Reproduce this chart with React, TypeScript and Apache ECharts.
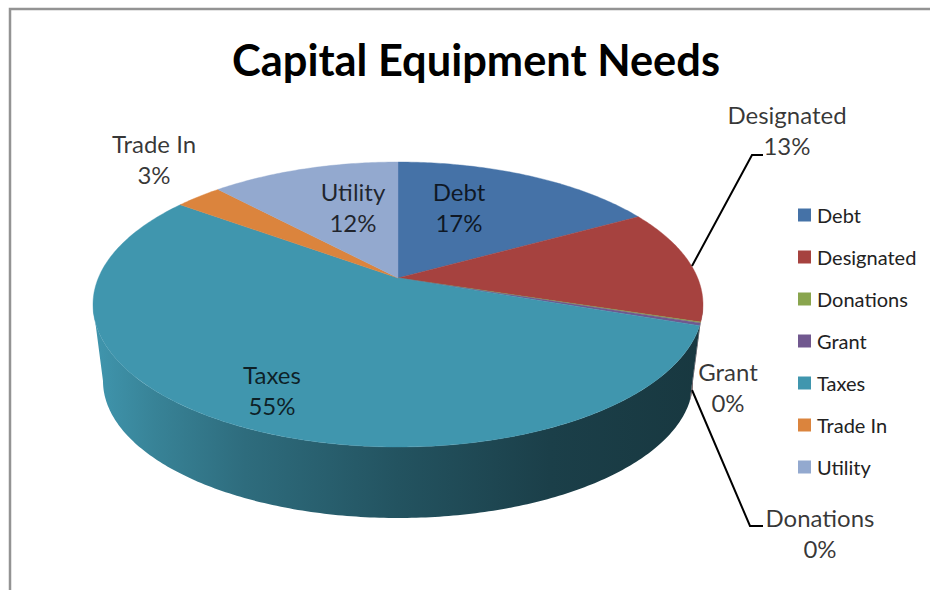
import React, { useEffect, useRef } from "react";
import * as echarts from "echarts";

// Capital equipment funding sources, in percent of the total.
const categories = ["Debt", "Designated", "Donations", "Grant", "Taxes", "Trade In", "Utility"];
const shares = [17, 13, 0.1, 0.3, 55, 3, 12];
const sliceColors = ["#4572A7", "#A6423F", "#89A54E", "#71588F", "#4096AE", "#DB843D", "#93A9CF"];

const total = shares.reduce((a, b) => a + b, 0);

// Perspective disc: the top face and the lower rim are ellipses, and the pie's
// centre sits above the ellipse centre, as a tilted camera would show it.
const topFace = { cx: 398, cy: 304.5, rx: 305, ry: 142.5 };
const lowerRim = { cx: 398, cy: 381, rx: 295, ry: 137 };
const tilt = -0.186;

// Hand-placed labels: text centre and optional leader line.
const labelSpots: Record<string, { x: number; y: number; leader?: number[][] }> = {
  Debt: { x: 459, y: 207 },
  Designated: { x: 787, y: 130, leader: [[692, 266], [752, 155], [763, 155]] },
  Donations: { x: 820, y: 533, leader: [[692, 390], [750, 526], [763, 526]] },
  Grant: { x: 728, y: 387 },
  Taxes: { x: 272, y: 390 },
  "Trade In": { x: 154, y: 159 },
  Utility: { x: 353, y: 207 },
};

const wallShade = [
  [0, 1],
  [0.1, 0.87],
  [0.25, 0.72],
  [0.5, 0.55],
  [0.75, 0.42],
  [1, 0.37],
];

function shade(hex: string, f: number) {
  const n = parseInt(hex.slice(1), 16);
  const c = [(n >> 16) & 255, (n >> 8) & 255, n & 255].map((v) => Math.round(v * f));
  return `rgb(${c[0]},${c[1]},${c[2]})`;
}

// Maps a true pie angle (clockwise from 12 o'clock) to normalised ellipse coordinates.
function project(theta: number) {
  const x = Math.sin(theta);
  const y = -Math.cos(theta);
  const d = 1 + tilt * y;
  return { u: (x * Math.sqrt(1 - tilt * tilt)) / d, v: (y + tilt) / d };
}

const onEllipse = (e: typeof topFace, p: { u: number; v: number }) => [e.cx + e.rx * p.u, e.cy + e.ry * p.v];

function angleSamples(from: number, to: number) {
  const steps = Math.max(2, Math.ceil((to - from) / (Math.PI / 240)));
  const out: number[] = [];
  for (let i = 0; i <= steps; i++) out.push(from + ((to - from) * i) / steps);
  return out;
}

// The wall is visible only for the arc of the rim that faces the viewer.
const wallFrom = Math.acos(tilt);
const wallTo = 2 * Math.PI - wallFrom;

function sliceRenderer(index: number) {
  const before = shares.slice(0, index).reduce((a, b) => a + b, 0);
  return (_params: any, api: any) => {
    const value = api.value(0);
    const start = (before / total) * 2 * Math.PI;
    const end = ((before + value) / total) * 2 * Math.PI;
    const children: any[] = [];
    const color = sliceColors[index];

    const wa = Math.max(start, wallFrom);
    const wb = Math.min(end, wallTo);
    if (wb > wa) {
      const arc = angleSamples(wa, wb).map(project);
      children.push({
        type: "polygon",
        shape: { points: [...arc.map((p) => onEllipse(topFace, p)), ...arc.reverse().map((p) => onEllipse(lowerRim, p))] },
        style: {
          fill: {
            type: "linear",
            global: true,
            x: topFace.cx - topFace.rx,
            y: 0,
            x2: topFace.cx + topFace.rx,
            y2: 0,
            colorStops: wallShade.map(([offset, f]) => ({ offset, color: shade(color, f) })),
          },
        },
      });
    }

    const apex = [topFace.cx, topFace.cy + topFace.ry * tilt];
    children.push({
      type: "polygon",
      shape: { points: [apex, ...angleSamples(start, end).map((t) => onEllipse(topFace, project(t)))] },
      style: { fill: color, stroke: color, lineWidth: 0.4 },
    });

    const spot = labelSpots[categories[index]];
    if (spot.leader) {
      children.push({
        type: "polyline",
        shape: { points: spot.leader },
        style: { fill: "none", stroke: "#000", lineWidth: 2 },
      });
    }
    children.push({
      type: "text",
      style: {
        x: spot.x,
        y: spot.y,
        text: `${categories[index]}\n${Math.round((value / total) * 100)}%`,
        font: "24px Lato",
        lineHeight: 31,
        align: "center",
        verticalAlign: "middle",
        fill: "rgba(0,0,0,0.78)",
      },
    });
    return { type: "group", children };
  };
}

export default function App() {
  const host = useRef<HTMLDivElement>(null);

  useEffect(() => {
    document.body.style.margin = "0";
    const chart = echarts.init(host.current!, undefined, { renderer: "svg" });
    chart.setOption({
      animation: false,
      backgroundColor: "#fff",
      title: {
        text: "Capital Equipment Needs",
        left: 471,
        top: 32,
        textAlign: "center",
        textStyle: { fontFamily: "Lato", fontWeight: "bold", fontSize: 43.4, color: "#000" },
      },
      legend: {
        orient: "vertical",
        left: 798,
        top: 205,
        padding: 0,
        itemWidth: 13,
        itemHeight: 13,
        itemGap: 22,
        icon: "rect",
        data: categories,
        textStyle: { fontFamily: "Lato", fontSize: 20, color: "#222", padding: [0, 0, 0, 1], lineHeight: 13 },
      },
      graphic: [
        {
          type: "polyline",
          silent: true,
          shape: { points: [[10, 590], [10, 9], [930, 9]] },
          style: { fill: "none", stroke: "#939393", lineWidth: 2.5 },
        },
      ],
      series: categories.map((name, i) => ({
        type: "custom",
        name,
        coordinateSystem: "none",
        itemStyle: { color: sliceColors[i] },
        renderItem: sliceRenderer(i),
        data: [{ name, value: [shares[i]] }],
      })),
    });
    return () => chart.dispose();
  }, []);

  return <div ref={host} style={{ width: 930, height: 590 }} />;
}
